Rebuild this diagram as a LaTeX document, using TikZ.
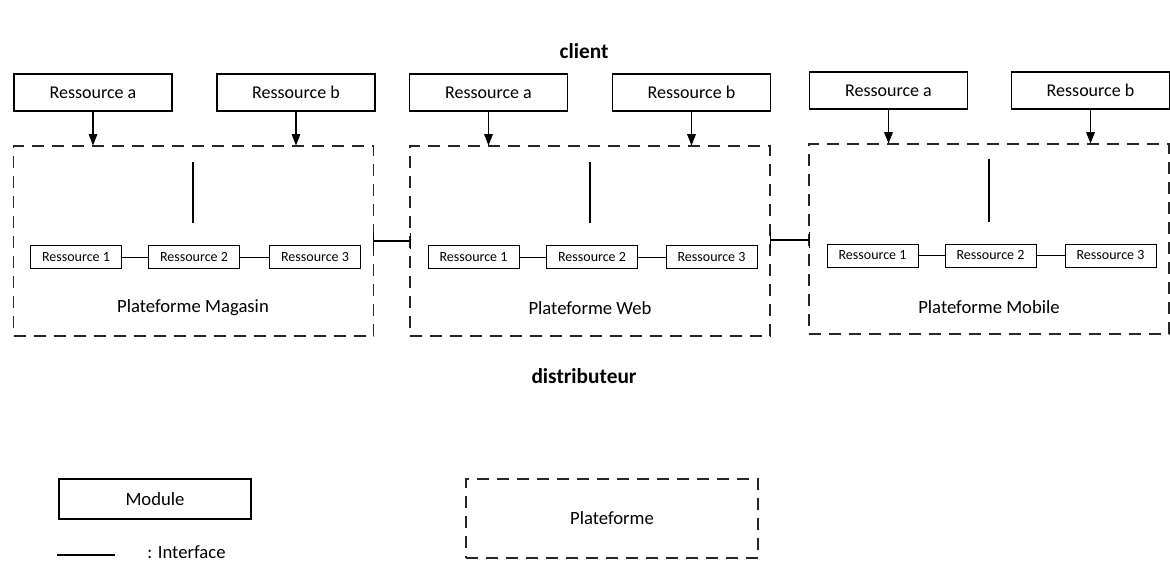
\documentclass[tikz,border=0pt]{standalone}
\usepackage{fontspec}
\setmainfont{Carlito}
\usetikzlibrary{arrows.meta}
\begin{document}
\begin{tikzpicture}[x=0.75pt,y=-0.75pt,
  bigmod/.style={draw=black, line width=0.8pt, inner sep=0pt, minimum width=118.5pt, minimum height=27.75pt, font=\fontsize{13.5}{16}\selectfont},
  smallmod/.style={draw=black, line width=0.7pt, inner sep=0pt, minimum width=68.25pt, minimum height=17.25pt, font=\fontsize{10.5}{12}\selectfont},
  platf/.style={draw=black!85, line width=0.8pt, dash pattern=on 9pt off 6pt, inner sep=0pt, minimum width=270pt, minimum height=142.5pt},
  plabel/.style={font=\fontsize{14}{17}\selectfont, inner sep=0pt},
  arr/.style={draw=black, line width=0.8pt, -{Triangle[width=6.5pt,length=8.5pt]}},
  link/.style={draw=black, line width=0.7pt},
  iface/.style={draw=black, line width=1.6pt},
  title/.style={font=\bfseries\fontsize{16}{19}\selectfont, inner sep=0pt}
]
\useasboundingbox (0,0) rectangle (1170,563);

\node[title] (client) at (584,51) {client};
\node[title] (distrib) at (584,376) {distributeur};

% ---------- Plateforme Magasin ----------
\node[platf] (p1) at (193.5,241) {};
\node[bigmod] (a1) at (93,92.5) {Ressource a};
\node[bigmod] (b1) at (296,92.5) {Ressource b};
\draw[arr] (a1.south) -- (a1.south |- p1.north);
\draw[arr] (b1.south) -- (b1.south |- p1.north);
\coordinate (i1t) at (193,162);
\coordinate (i1b) at (193,223);
\draw[iface] (i1t) -- (i1b);
\node[smallmod] (r11) at (76,257) {Ressource 1};
\node[smallmod] (r12) at (194,257) {Ressource 2};
\node[smallmod] (r13) at (315,257) {Ressource 3};
\draw[link] (r11.east) -- (r12.west);
\draw[link] (r12.east) -- (r13.west);
\node[plabel] (l1) at (193,308) {Plateforme Magasin};

% ---------- Plateforme Web ----------
\node[platf] (p2) at (590,241) {};
\node[bigmod] (a2) at (488.5,92.5) {Ressource a};
\node[bigmod] (b2) at (691.5,92.5) {Ressource b};
\draw[arr] (a2.south) -- (a2.south |- p2.north);
\draw[arr] (b2.south) -- (b2.south |- p2.north);
\coordinate (i2t) at (590,162);
\coordinate (i2b) at (590,223);
\draw[iface] (i2t) -- (i2b);
\node[smallmod] (r21) at (473.5,257) {Ressource 1};
\node[smallmod] (r22) at (592,257) {Ressource 2};
\node[smallmod] (r23) at (711.5,257) {Ressource 3};
\draw[link] (r21.east) -- (r22.west);
\draw[link] (r22.east) -- (r23.west);
\node[plabel] (l2) at (590,308) {Plateforme Web};

% ---------- Plateforme Mobile ----------
\node[platf] (p3) at (989,239) {};
\node[bigmod] (a3) at (888.5,90.5) {Ressource a};
\node[bigmod] (b3) at (1090.5,90.5) {Ressource b};
\draw[arr] (a3.south) -- (a3.south |- p3.north);
\draw[arr] (b3.south) -- (b3.south |- p3.north);
\coordinate (i3t) at (989,159);
\coordinate (i3b) at (989,222);
\draw[iface] (i3t) -- (i3b);
\node[smallmod] (r31) at (872.5,255.5) {Ressource 1};
\node[smallmod] (r32) at (990.5,255.5) {Ressource 2};
\node[smallmod] (r33) at (1110.5,255.5) {Ressource 3};
\draw[link] (r31.east) -- (r32.west);
\draw[link] (r32.east) -- (r33.west);
\node[plabel] (l3) at (989,307) {Plateforme Mobile};

% ---------- interfaces between platforms ----------
\coordinate (c12) at (373,241);
\coordinate (c21) at (410,241);
\draw[iface] (c12) -- (c21);
\draw[link] ([yshift=6pt]c12) -- ([yshift=-6pt]c12);
\draw[link] ([yshift=6pt]c21) -- ([yshift=-6pt]c21);
\coordinate (c23) at (770,240);
\coordinate (c32) at (809,240);
\draw[iface] (c23) -- (c32);
\draw[link] ([yshift=6pt]c23) -- ([yshift=-6pt]c23);
\draw[link] ([yshift=6pt]c32) -- ([yshift=-6pt]c32);

% ---------- legend ----------
\node[draw=black, line width=0.8pt, inner sep=0pt, minimum width=144pt, minimum height=30pt, font=\fontsize{14}{17}\selectfont] (lm) at (155,499) {Module};
\coordinate (lia) at (57,555);
\coordinate (lib) at (115,555);
\draw[iface] (lia) -- (lib);
\node[plabel, anchor=west] (lit) at (147,552) {: Interface};
\node[platf, minimum width=219pt, minimum height=59.25pt, font=\fontsize{14}{17}\selectfont] (lp) at (612,518.5) {Plateforme};
\end{tikzpicture}
\end{document}
